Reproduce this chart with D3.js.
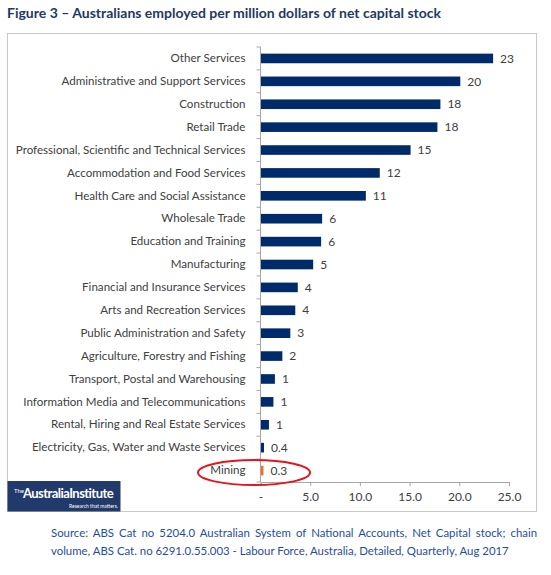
<!DOCTYPE html>
<html>
<head>
<meta charset="utf-8">
<script src="https://cdn.jsdelivr.net/npm/d3@7"></script>
<style>
  body { margin: 0; background: #fff; }
  text { font-family: Lato, "Open Sans", sans-serif; }
</style>
</head>
<body>
<svg id="chart" width="551" height="575"></svg>
<script>
// Industry categories, top to bottom
const industries = [
  'Other Services',
  'Administrative and Support Services',
  'Construction',
  'Retail Trade',
  'Professional, Scientific and Technical Services',
  'Accommodation and Food Services',
  'Health Care and Social Assistance',
  'Wholesale Trade',
  'Education and Training',
  'Manufacturing',
  'Financial and Insurance Services',
  'Arts and Recreation Services',
  'Public Administration and Safety',
  'Agriculture, Forestry and Fishing',
  'Transport, Postal and Warehousing',
  'Information Media and Telecommunications',
  'Rental, Hiring and Real Estate Services',
  'Electricity, Gas, Water and Waste Services',
  'Mining'
];

// Employed per $m net capital stock
const employedPerMillion = [23.4, 20.1, 18.1, 17.8, 15.1, 12.0, 10.6, 6.2, 6.1, 5.3,
  3.75, 3.5, 3.0, 2.2, 1.45, 1.3, 0.85, 0.35, 0.3];

// Data labels as printed on the chart
const valueLabels = ['23', '20', '18', '18', '15', '12', '11', '6', '6', '5',
  '4', '4', '3', '2', '1', '1', '1', '0.4', '0.3'];

const xTicks = [0, 5, 10, 15, 20, 25];
const xTickLabels = ['-', '5.0', '10.0', '15.0', '20.0', '25.0'];

const highlighted = 'Mining';

const sourceLines = [
  'Source: ABS Cat no 5204.0 Australian System of National Accounts, Net Capital stock; chain',
  'volume, ABS Cat. no 6291.0.55.003 - Labour Force, Australia, Detailed, Quarterly, Aug 2017'
];

const svg = d3.select('#chart');

// Title
svg.append('text')
  .attr('x', 7)
  .attr('y', 18)
  .attr('fill', '#1f3864')
  .attr('font-size', 14)
  .attr('font-weight', 'bold')
  .text('Figure 3 \u2013 Australians employed per million dollars of net capital stock');

// Chart frame
svg.append('rect')
  .attr('x', 7.5).attr('y', 33.5)
  .attr('width', 529).attr('height', 478)
  .attr('fill', '#fff')
  .attr('stroke', '#c8c8c8');

const x = d3.scaleLinear().domain([0, 25]).range([260.5, 509]);
const y = d3.scaleBand().domain(industries).range([47, 482]).paddingInner(0.58).paddingOuter(0.29);

// Bars
svg.append('g')
  .selectAll('rect')
  .data(industries)
  .join('rect')
  .attr('x', x(0))
  .attr('y', d => y(d))
  .attr('width', (d, i) => x(employedPerMillion[i]) - x(0))
  .attr('height', y.bandwidth())
  .attr('fill', d => d === highlighted ? '#f26f21' : '#002b6b');

// Value labels
svg.append('g')
  .selectAll('text')
  .data(industries)
  .join('text')
  .attr('x', (d, i) => x(employedPerMillion[i]) + 7)
  .attr('y', d => y(d) + y.bandwidth() / 2)
  .attr('dy', '0.35em')
  .attr('font-size', 12)
  .attr('fill', '#404040')
  .text((d, i) => valueLabels[i]);

// Category axis
const yAxis = svg.append('g')
  .attr('transform', `translate(${x(0)},0)`)
  .call(d3.axisLeft(y).tickSize(0).tickPadding(15));
yAxis.select('.domain').remove();
yAxis.selectAll('text')
  .attr('font-size', 11.6)
  .attr('fill', '#404040');

// Category axis line and separator ticks
const bandTop = 47;
const bandEdges = d3.range(industries.length + 1).map(i => bandTop + i * (482 - bandTop) / industries.length);
svg.append('line')
  .attr('x1', x(0)).attr('x2', x(0))
  .attr('y1', bandTop).attr('y2', 482)
  .attr('stroke', '#a6a6a6');
svg.append('g')
  .selectAll('line')
  .data(bandEdges)
  .join('line')
  .attr('x1', x(0) - 4).attr('x2', x(0))
  .attr('y1', d => d).attr('y2', d => d)
  .attr('stroke', '#a6a6a6');

// Value axis
const xAxis = svg.append('g')
  .attr('transform', 'translate(0,482)')
  .call(d3.axisBottom(x).tickValues(xTicks).tickSize(4).tickPadding(6)
    .tickFormat((d, i) => xTickLabels[i]));
xAxis.select('.domain').attr('stroke', '#a6a6a6');
xAxis.selectAll('line').attr('stroke', '#a6a6a6');
xAxis.selectAll('text')
  .attr('font-size', 12)
  .attr('fill', '#404040');

// Red ring around Mining
svg.append('ellipse')
  .attr('cx', 254)
  .attr('cy', y(highlighted) + y.bandwidth() / 2 + 2)
  .attr('rx', 56).attr('ry', 12.5)
  .attr('fill', 'none')
  .attr('stroke', '#e3161b')
  .attr('stroke-width', 2);

// Logo block
const logo = svg.append('g');
logo.append('rect')
  .attr('x', 7.5).attr('y', 481)
  .attr('width', 113).attr('height', 30.5)
  .attr('fill', '#223a6b');
logo.append('text')
  .attr('x', 14).attr('y', 493)
  .attr('font-size', 6)
  .attr('fill', '#fff')
  .text('The');
logo.append('text')
  .attr('x', 23).attr('y', 497.5)
  .attr('font-size', 13)
  .attr('font-weight', 'bold')
  .attr('letter-spacing', -0.55)
  .attr('fill', '#fff')
  .text('AustraliaInstitute');
logo.append('text')
  .attr('x', 118).attr('y', 508)
  .attr('text-anchor', 'end')
  .attr('font-size', 5)
  .attr('fill', '#fff')
  .text('Research that matters.');

// Source note, first line justified to the frame edge
const source = svg.append('text')
  .attr('font-size', 11.4)
  .attr('fill', '#1f4e9a');
const srcSpans = source.selectAll('tspan')
  .data(sourceLines)
  .join('tspan')
  .attr('x', 51)
  .attr('y', (d, i) => 537 + i * 18)
  .text(d => d);
const first = srcSpans.filter((d, i) => i === 0);
const len = first.node().getComputedTextLength();
const gaps = sourceLines[0].split(' ').length - 1;
first.attr('word-spacing', Math.max(0, (486 - len) / gaps));
</script>
</body>
</html>
